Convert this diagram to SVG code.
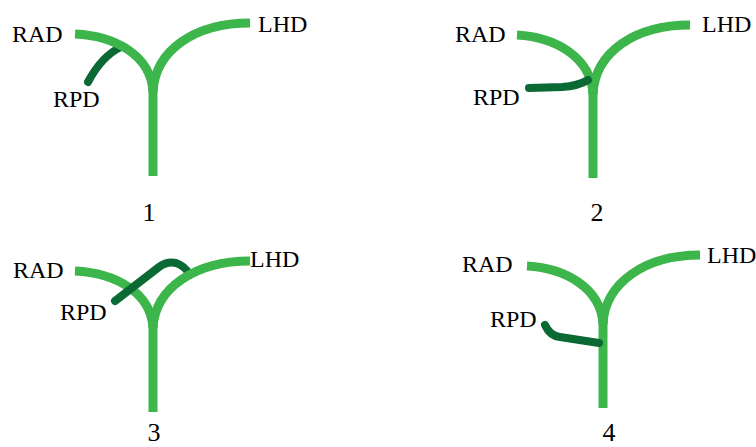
<svg xmlns="http://www.w3.org/2000/svg" width="756" height="447" viewBox="0 0 756 447">
  <style>
    .duct { fill: none; stroke: #3cb54a; stroke-width: 9; stroke-linecap: butt; }
    .rpd { fill: none; stroke: #0b6a33; stroke-width: 8; stroke-linecap: round; stroke-linejoin: round; }
    .lbl { font-family: "Liberation Serif", "Times New Roman", serif; font-size: 24px; fill: #000; }
    .num { font-family: "Liberation Serif", "Times New Roman", serif; font-size: 26px; fill: #000; text-anchor: middle; }
  </style>
  <rect width="756" height="447" fill="#fff"/>

  <!-- Variant 1: RPD joins the RAD -->
  <g id="variant-1">
    <g id="v1-ducts">
      <path class="rpd" d="M88,82 C96,67 106,54 121,47"/>
      <path class="duct" d="M75,34 C115,36 151,55 153,92"/>
      <path class="duct" d="M153,92 C155,50 195,23 250,23"/>
      <path class="duct" d="M153,88 V176"/>
    </g>
    <text class="lbl" x="12" y="42">RAD</text>
    <text class="lbl" x="258" y="32">LHD</text>
    <text class="lbl" x="53" y="107">RPD</text>
    <text class="num" x="149" y="221">1</text>
  </g>

  <!-- Variant 2: RPD joins the confluence -->
  <g id="variant-2">
    <g id="v2-ducts">
      <path class="duct" d="M517,35 C555,37 591,57 593,94"/>
      <path class="duct" d="M593,94 C595,52 635,25 690,25"/>
      <path class="duct" d="M593,90 V178"/>
      <path class="rpd" d="M529,88 L562,87 Q578,86 588,80"/>
    </g>
    <text class="lbl" x="455" y="42">RAD</text>
    <text class="lbl" x="702" y="32">LHD</text>
    <text class="lbl" x="473" y="105">RPD</text>
    <text class="num" x="597" y="221">2</text>
  </g>

  <!-- Variant 3: RPD crosses over the RAD to the LHD -->
  <g id="variant-3">
    <g id="v3-ducts">
      <path class="duct" d="M75,271 C115,273 151,292 153,328"/>
      <path class="rpd" d="M115,301 L159,267 Q167,261 176,263 Q185,266 190,275"/>
      <path class="duct" d="M153,328 C155,288 195,261 250,261"/>
      <path class="duct" d="M153,324 V412"/>
    </g>
    <text class="lbl" x="13" y="278">RAD</text>
    <text class="lbl" x="250" y="267">LHD</text>
    <text class="lbl" x="60" y="320">RPD</text>
    <text class="num" x="154" y="441">3</text>
  </g>

  <!-- Variant 4: RPD joins the common hepatic duct -->
  <g id="variant-4">
    <g id="v4-ducts">
      <path class="duct" d="M527,266 C565,268 601,288 603,324"/>
      <path class="duct" d="M603,324 C605,283 645,255 700,255"/>
      <path class="duct" d="M603,320 V408"/>
      <path class="rpd" d="M545,325 Q550,336 560,337 L599,343"/>
    </g>
    <text class="lbl" x="462" y="272">RAD</text>
    <text class="lbl" x="707" y="263">LHD</text>
    <text class="lbl" x="490" y="327">RPD</text>
    <text class="num" x="609" y="441" font-family="Liberation Sans, Arial, sans-serif">4</text>
  </g>
</svg>
